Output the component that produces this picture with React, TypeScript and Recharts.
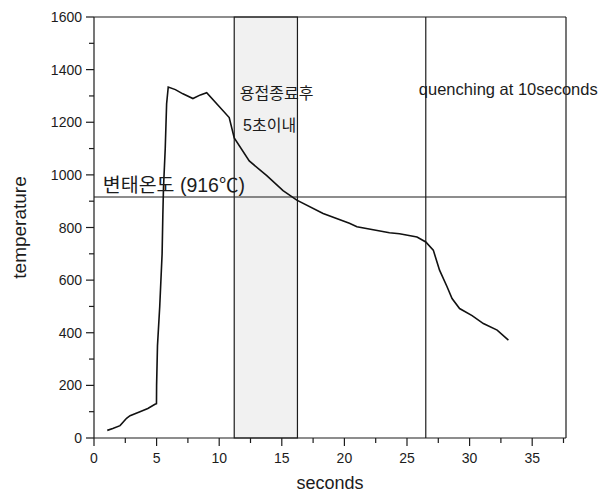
import React from 'react';
import { LineChart, Line, XAxis, YAxis, ReferenceArea, ReferenceLine, ReferenceDot, Label } from 'recharts';

const seconds = [1.06, 1.5, 2.08, 2.6, 2.88, 3.67, 4.3, 4.87, 4.99, 5.0, 5.07, 5.25, 5.44, 5.5, 5.55, 5.69, 5.8, 5.93, 6.5, 7.1, 7.9, 8.5, 9.0, 10.0, 10.8, 11.2, 12.4, 13.8, 15.1, 16.2, 18.3, 20.4, 21.0, 23.6, 24.4, 25.8, 26.5, 27.1, 27.6, 28.2, 28.6, 29.2, 30.2, 31.1, 32.2, 33.1];
const temperature = [29, 36, 47, 75, 85, 100, 112, 128, 130, 200, 350, 500, 700, 850, 950, 1100, 1270, 1334, 1324, 1308, 1290, 1304, 1312, 1260, 1218, 1140, 1053, 997, 940, 904, 853, 816, 803, 780, 776, 764, 745, 714, 638, 575, 530, 492, 465, 435, 410, 372];

const xTicks = [0, 2.5, 5, 7.5, 10, 12.5, 15, 17.5, 20, 22.5, 25, 27.5, 30, 32.5, 35, 37.5];
const yTicks = [0, 100, 200, 300, 400, 500, 600, 700, 800, 900, 1000, 1100, 1200, 1300, 1400, 1500, 1600];
const xMax = 37.7;
const yMax = 1600;
const transitionTemp = 916;
const bandStart = 11.2;
const bandEnd = 16.25;
const quenchAt = 26.5;

const annotations = [
  { x: 0.7, y: 935, text: '변태온도 (916℃)', anchor: 'start', size: 19.5 },
  { x: 14.59, y: 1288, text: '용접종료후', anchor: 'middle', size: 16 },
  { x: 14.03, y: 1167, text: '5초이내', anchor: 'middle', size: 16 },
  { x: 33.09, y: 1304, text: 'quenching at 10seconds', anchor: 'middle', size: 16.5 },
];

const data = seconds.map((s, i) => ({ s, t: temperature[i] }));

const FONT = "'Liberation Sans', Arial, 'Noto Sans CJK KR', sans-serif";
const INK = '#1c1c1c';

const XTick = (props: any) => {
  const { x, y, payload } = props;
  const v = payload.value;
  const major = Math.abs(v % 5) < 1e-6;
  return (
    <g>
      <line x1={x} x2={x} y1={y} y2={y + (major ? 8 : 5)} stroke={INK} strokeWidth={1.2} />
      {major && (
        <text x={x} y={y + 25} textAnchor="middle" fontSize={14} fontFamily={FONT} fill={INK}>{v}</text>
      )}
    </g>
  );
};

const YTick = (props: any) => {
  const { x, y, payload } = props;
  const v = payload.value;
  const major = v % 200 === 0;
  return (
    <g>
      <line x1={x - (major ? 8 : 5)} x2={x} y1={y} y2={y} stroke={INK} strokeWidth={1.2} />
      {major && (
        <text x={x - 12} y={y + 5} textAnchor="end" fontSize={14} fontFamily={FONT} fill={INK}>{v}</text>
      )}
    </g>
  );
};

export default function App() {
  return (
    <div style={{ position: 'absolute', left: 0, top: 0, background: '#fff' }}>
      <LineChart width={610} height={495} data={data} margin={{ top: 17, right: 44, left: 0, bottom: 0 }}>
        <XAxis
          dataKey="s"
          type="number"
          domain={[0, xMax]}
          ticks={xTicks}
          interval={0}
          tickSize={0}
          tickMargin={0}
          tickLine={false}
          tick={<XTick />}
          height={57}
          axisLine={{ stroke: INK, strokeWidth: 1.2 }}
          allowDataOverflow
        >
          <Label
            content={(p: any) => {
              const vb = p.viewBox;
              return (
                <text x={vb.x + vb.width / 2} y={vb.y + 51} textAnchor="middle" fontSize={18} fontFamily={FONT} fill={INK}>seconds</text>
              );
            }}
          />
        </XAxis>
        <YAxis
          type="number"
          domain={[0, yMax]}
          ticks={yTicks}
          interval={0}
          tickSize={0}
          tickMargin={0}
          tickLine={false}
          tick={<YTick />}
          width={94}
          axisLine={{ stroke: INK, strokeWidth: 1.2 }}
          allowDataOverflow
        >
          <Label
            content={(p: any) => {
              const vb = p.viewBox;
              const cx = 26;
              const cy = vb.y + vb.height / 2;
              return (
                <text x={cx} y={cy} transform={`rotate(-90 ${cx} ${cy})`} textAnchor="middle" fontSize={19} fontFamily={FONT} fill={INK}>temperature</text>
              );
            }}
          />
        </YAxis>
        <ReferenceArea x1={bandStart} x2={bandEnd} y1={0} y2={yMax} fill="#f1f1f1" fillOpacity={1} stroke={INK} strokeWidth={1.2} />
        <ReferenceLine y={transitionTemp} stroke={INK} strokeWidth={1.2} />
        <ReferenceLine x={quenchAt} stroke={INK} strokeWidth={1.2} />
        <ReferenceLine y={yMax} stroke={INK} strokeWidth={1.2} />
        <ReferenceLine x={xMax} stroke={INK} strokeWidth={1.2} />
        <Line type="linear" dataKey="t" stroke="#111" strokeWidth={1.6} dot={false} isAnimationActive={false} />
        {annotations.map((a, i) => (
          <ReferenceDot
            key={i}
            x={a.x}
            y={a.y}
            r={0}
            fill="none"
            stroke="none"
            label={{
              content: (p: any) => {
                const vb = p.viewBox;
                return (
                  <text x={vb.x} y={vb.y} textAnchor={a.anchor as any} fontSize={a.size} fontFamily={FONT} fill={INK}>{a.text}</text>
                );
              },
            }}
          />
        ))}
      </LineChart>
    </div>
  );
}
